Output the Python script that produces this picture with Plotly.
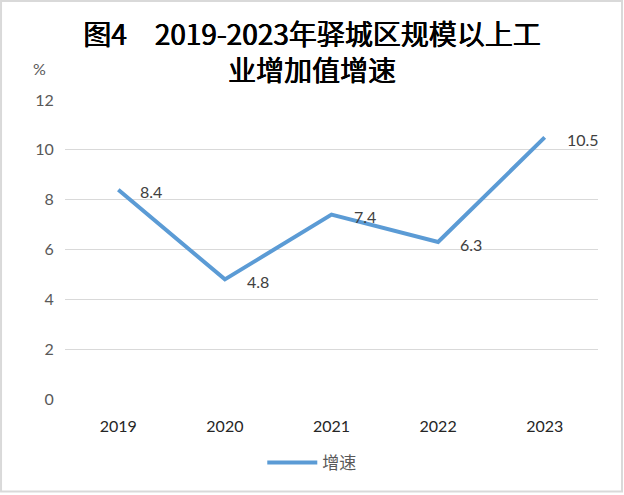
import plotly.graph_objects as go

years = ["2019", "2020", "2021", "2022", "2023"]
growth = [8.4, 4.8, 7.4, 6.3, 10.5]
value_labels = ["8.4", "4.8", "7.4", "6.3", "10.5"]
y_ticks = [0, 2, 4, 6, 8, 10, 12]
series_name = "增速"
title_lines = ["图4　2019-2023年驿城区规模以上工", "业增加值增速"]

fig = go.Figure()
fig.add_trace(go.Scatter(
    x=years, y=growth, mode="lines", name=series_name,
    line=dict(color="#5b9bd5", width=4),
    hoverinfo="x+y",
))

annotations = []
for i, (v, lab) in enumerate(zip(growth, value_labels)):
    annotations.append(dict(
        x=i, y=v, xref="x", yref="y", text=lab, showarrow=False,
        xanchor="left", yanchor="middle", xshift=20, yshift=-2,
        font=dict(family="Lato, Calibri, sans-serif", size=16, color="#404040"),
    ))
annotations.append(dict(
    x=-0.047, y=1.107, xref="paper", yref="paper", text="%", showarrow=False,
    xanchor="center", yanchor="middle",
    font=dict(family="Lato, sans-serif", size=16, color="#595959"),
))

fig.update_layout(
    width=624, height=495,
    margin=dict(l=65, r=26, t=100, b=96),
    paper_bgcolor="white", plot_bgcolor="white",
    title=dict(
        text="<br>".join(title_lines),
        x=0.5, xref="container", xanchor="center",
        y=0.91, yref="container", yanchor="middle",
        font=dict(family="Noto Sans CJK SC", size=28, color="#000000",
                  shadow="0.5px 0px 0px #000000, -0.3px 0px 0px #000000"),
    ),
    xaxis=dict(
        type="category", range=[-0.5, 4.5], showgrid=False, zeroline=False,
        showline=False, ticks="outside", ticklen=13, tickcolor="rgba(0,0,0,0)",
        tickfont=dict(family="Lato, Calibri, sans-serif", size=16, color="#262626"),
    ),
    yaxis=dict(
        range=[0, 12], tickvals=y_ticks, showgrid=True, gridcolor="#d9d9d9",
        gridwidth=1.3, zeroline=False, showline=False,
        ticks="outside", ticklen=7, tickcolor="rgba(0,0,0,0)",
        tickfont=dict(family="Lato, Calibri, sans-serif", size=16, color="#595959"),
    ),
    showlegend=True,
    legend=dict(
        orientation="h", x=0.463, xanchor="center",
        y=-0.214, yanchor="middle",
        font=dict(family="Noto Sans CJK SC", size=17, color="#595959"),
        itemwidth=50,
    ),
    annotations=annotations,
    shapes=[dict(
        type="rect", xref="paper", yref="paper",
        x0=-0.12, x1=1.045, y0=-0.309, y1=1.331,
        line=dict(color="#d9d9d9", width=2), fillcolor="rgba(0,0,0,0)",
        layer="below",
    )],
)

fig.write_html("out.html")
